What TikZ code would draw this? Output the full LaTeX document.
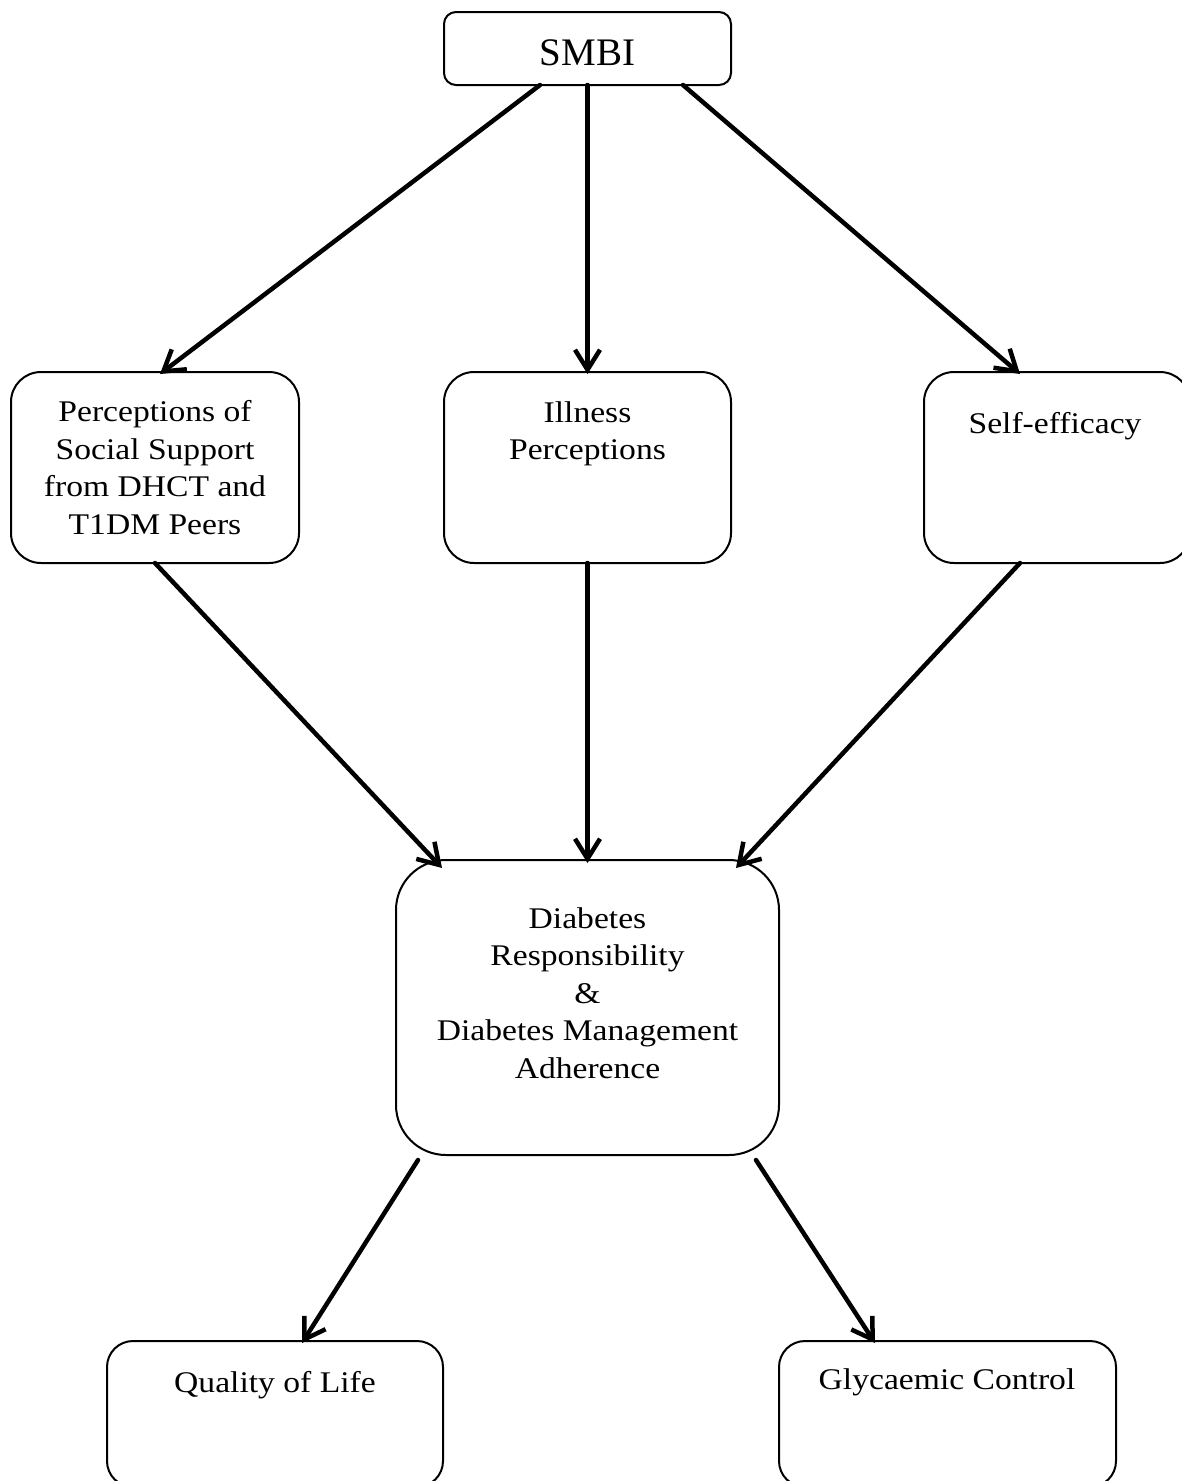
\documentclass[tikz,border=0pt]{standalone}
\usepackage{fontspec}
\setmainfont[FakeStretch=1.12]{Liberation Serif}
\newfontfamily\smbifont{Liberation Serif}
\usetikzlibrary{arrows.meta}
\begin{document}
\begin{tikzpicture}[x=1pt,y=-1pt,
  box/.style={draw, line width=2pt, inner sep=0pt, outer sep=0pt, anchor=north west},
  lbl/.style={align=center, inner sep=0pt, anchor=base, font=\fontsize{30}{37.5}\selectfont},
  conn/.style={line width=4.5pt, line cap=round, -{Straight Barb[length=20pt,width=25pt,line width=4.5pt]}}]
\useasboundingbox (0,0) rectangle (1182,1481);
% boxes
\node[box, rounded corners=12pt, minimum width=287pt, minimum height=73pt] (smbi) at (444,12) {};
\node[box, rounded corners=30pt, minimum width=288pt, minimum height=191pt] (perc) at (11,372) {};
\node[box, rounded corners=30pt, minimum width=287pt, minimum height=191pt] (ill) at (444,372) {};
\node[box, rounded corners=30pt, minimum width=266pt, minimum height=191pt] (self) at (924,372) {};
\node[box, rounded corners=50pt, minimum width=383pt, minimum height=295pt] (cen) at (396,860) {};
\node[box, rounded corners=26pt, minimum width=336pt, minimum height=146pt] (qol) at (107,1341) {};
\node[box, rounded corners=26pt, minimum width=337pt, minimum height=146pt] (gly) at (779,1341) {};
% labels (anchor base = baseline of the last line)
\node[inner sep=0pt, anchor=base, font=\smbifont\fontsize{39}{45}\selectfont] (smbit) at (587.5,65) {SMBI};
\node[lbl] (perct) at (155,534) {Perceptions of\\Social Support\\from DHCT and\\T1DM Peers};
\node[lbl] (illt) at (587.5,459.5) {Illness\\Perceptions};
\node[lbl] (selft) at (1055,433) {Self-efficacy};
\node[lbl] (cent) at (587.5,1078) {Diabetes\\Responsibility\\\&\\Diabetes Management\\Adherence};
\node[lbl] (qolt) at (275,1392) {Quality of Life};
\node[lbl] (glyt) at (947,1389) {Glycaemic Control};
% connectors
\draw[conn] ([xshift=-47.5pt]smbi.south) -- ([xshift=5pt,yshift=-2pt]perc.north);
\draw[conn] (smbi.south) -- ([yshift=-2pt]ill.north);
\draw[conn] ([xshift=95.5pt]smbi.south) -- ([xshift=-37pt,yshift=-2pt]self.north);
\draw[conn] (perc.south) -- ([xshift=-145.5pt,yshift=-8pt]cen.north);
\draw[conn] (ill.south) -- ([yshift=-3pt]cen.north);
\draw[conn] ([xshift=-37pt]self.south) -- ([xshift=148.5pt,yshift=-8pt]cen.north);
\draw[conn] ([xshift=-169.5pt,yshift=-5pt]cen.south) -- ([xshift=27pt,yshift=-2pt]qol.north);
\draw[conn] ([xshift=168.5pt,yshift=-5pt]cen.south) -- ([xshift=-72.5pt,yshift=-2pt]gly.north);
\end{tikzpicture}
\end{document}
